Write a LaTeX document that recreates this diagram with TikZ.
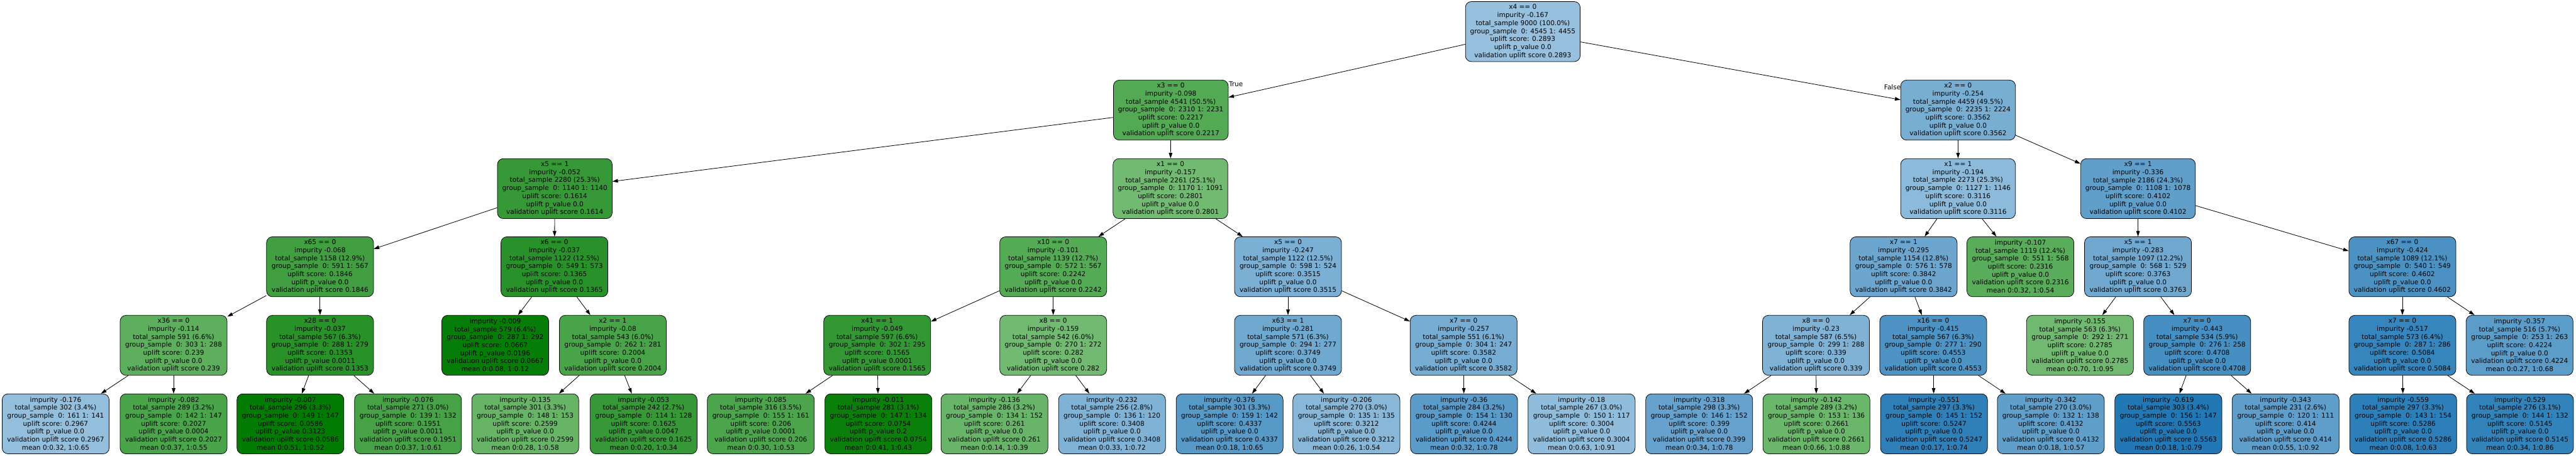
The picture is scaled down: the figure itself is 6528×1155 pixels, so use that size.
\documentclass[tikz,border=0pt]{standalone}
\usepackage{fontspec}
\setmainfont{DejaVu Sans}
\usepackage{xcolor}
\usetikzlibrary{arrows.meta}

\definecolor{gdark}{HTML}{007A00}
\definecolor{glight}{HTML}{74BB74}
\definecolor{blight}{HTML}{98C1DE}
\definecolor{bdark}{HTML}{1F77B4}

\newcommand{\splittxt}[7]{#1\\impurity #2\\total\_sample #3\\group\_sample\ \ 0: #4 1: #5\\uplift score: #6\\uplift p\_value #7\\validation uplift score #6}
\newcommand{\leaftxt}[7]{impurity #1\\total\_sample #2\\group\_sample\ \ 0: #3 1: #4\\uplift score: #5\\uplift p\_value #6\\validation uplift score #5\\mean #7}

\begin{document}
\begin{tikzpicture}[x=1pt, y=-1pt,
  box/.style={draw=black, line width=1.2pt, rounded corners=15pt, align=center,
    minimum width=271pt, minimum height=152pt, inner xsep=12pt, inner ysep=3pt,
    font=\fontsize{16.8}{20.2}\selectfont},
  ucol/.code={%
    \pgfmathtruncatemacro\isgreen{#1<0.285}%
    \ifnum\isgreen=1
      \pgfmathsetmacro\upct{min(100,max(0,(0.285-#1)/0.23*100))}%
      \xglobal\colorlet{nodefill}{gdark!\upct!glight}%
    \else
      \pgfmathsetmacro\upct{min(100,max(0,(#1-0.285)/0.275*100))}%
      \xglobal\colorlet{nodefill}{bdark!\upct!blight}%
    \fi
    \pgfkeysalso{fill=nodefill}},
  link/.style={-{Triangle[length=14pt,width=9pt]}, line width=1.3pt},
  lbl/.style={inner sep=0pt, font=\fontsize{16.8}{20.2}\selectfont}]

\fill[white] (0,0) rectangle (6528,1155);
\useasboundingbox (0,0) rectangle (6528,1155);

\node[box, ucol=0.2893] (root) at (3859,80) {\splittxt{x4 == 0}{-0.167}{9000 (100.0\%)}{4545}{4455}{0.2893}{0.0}};

\node[box, ucol=0.2217] (a) at (2967,279) {\splittxt{x3 == 0}{-0.098}{4541 (50.5\%)}{2310}{2231}{0.2217}{0.0}};
\node[box, ucol=0.3562] (b) at (4962,279) {\splittxt{x2 == 0}{-0.254}{4459 (49.5\%)}{2235}{2224}{0.3562}{0.0}};

\node[box, ucol=0.1614] (aa) at (1406,478) {\splittxt{x5 == 1}{-0.052}{2280 (25.3\%)}{1140}{1140}{0.1614}{0.0}};
\node[box, ucol=0.2801] (ab) at (2966,478) {\splittxt{x1 == 0}{-0.157}{2261 (25.1\%)}{1170}{1091}{0.2801}{0.0}};
\node[box, ucol=0.3116] (ba) at (4962,478) {\splittxt{x1 == 1}{-0.194}{2273 (25.3\%)}{1127}{1146}{0.3116}{0.0}};
\node[box, ucol=0.4102] (bb) at (5418,478) {\splittxt{x9 == 1}{-0.336}{2186 (24.3\%)}{1108}{1078}{0.4102}{0.0}};

\node[box, ucol=0.1846] (aaa) at (811,676) {\splittxt{x65 == 0}{-0.068}{1158 (12.9\%)}{591}{567}{0.1846}{0.0}};
\node[box, ucol=0.1365] (aab) at (1405,676) {\splittxt{x6 == 0}{-0.037}{1122 (12.5\%)}{549}{573}{0.1365}{0.0}};
\node[box, ucol=0.2242] (aba) at (2669,676) {\splittxt{x10 == 0}{-0.101}{1139 (12.7\%)}{572}{567}{0.2242}{0.0}};
\node[box, ucol=0.3515] (abb) at (3264,676) {\splittxt{x5 == 0}{-0.247}{1122 (12.5\%)}{598}{524}{0.3515}{0.0}};
\node[box, ucol=0.3842] (baa) at (4824,676) {\splittxt{x7 == 1}{-0.295}{1154 (12.8\%)}{576}{578}{0.3842}{0.0}};
\node[box, ucol=0.2316] (bab) at (5120,676) {\leaftxt{-0.107}{1119 (12.4\%)}{551}{568}{0.2316}{0.0}{0:0.32, 1:0.54}};
\node[box, ucol=0.3763] (bba) at (5418,676) {\splittxt{x5 == 1}{-0.283}{1097 (12.2\%)}{568}{529}{0.3763}{0.0}};
\node[box, ucol=0.4602] (bbb) at (6088,676) {\splittxt{x67 == 0}{-0.424}{1089 (12.1\%)}{540}{549}{0.4602}{0.0}};

\node[box, ucol=0.239] (aaaa) at (440,875) {\splittxt{x36 == 0}{-0.114}{591 (6.6\%)}{303}{288}{0.239}{0.0}};
\node[box, ucol=0.1353] (aaab) at (811,875) {\splittxt{x28 == 0}{-0.037}{567 (6.3\%)}{288}{279}{0.1353}{0.0011}};
\node[box, ucol=0.0667] (aaba) at (1255,875) {\leaftxt{-0.009}{579 (6.4\%)}{287}{292}{0.0667}{0.0196}{0:0.08, 1:0.12}};
\node[box, ucol=0.2004] (aabb) at (1553,875) {\splittxt{x2 == 1}{-0.08}{543 (6.0\%)}{262}{281}{0.2004}{0.0}};
\node[box, ucol=0.1565] (abaa) at (2223,875) {\splittxt{x41 == 1}{-0.049}{597 (6.6\%)}{302}{295}{0.1565}{0.0001}};
\node[box, ucol=0.282] (abab) at (2669,875) {\splittxt{x8 == 0}{-0.159}{542 (6.0\%)}{270}{272}{0.282}{0.0}};
\node[box, ucol=0.3749] (abba) at (3264,875) {\splittxt{x63 == 1}{-0.281}{571 (6.3\%)}{294}{277}{0.3749}{0.0}};
\node[box, ucol=0.3582] (abbb) at (3709,875) {\splittxt{x7 == 0}{-0.257}{551 (6.1\%)}{304}{247}{0.3582}{0.0}};
\node[box, ucol=0.339] (baaa) at (4602,875) {\splittxt{x8 == 0}{-0.23}{587 (6.5\%)}{299}{288}{0.339}{0.0}};
\node[box, ucol=0.4553] (baab) at (4899,875) {\splittxt{x16 == 0}{-0.415}{567 (6.3\%)}{277}{290}{0.4553}{0.0}};
\node[box, ucol=0.2785] (bbaa) at (5271,875) {\leaftxt{-0.155}{563 (6.3\%)}{292}{271}{0.2785}{0.0}{0:0.70, 1:0.95}};
\node[box, ucol=0.4708] (bbab) at (5568,875) {\splittxt{x7 == 0}{-0.443}{534 (5.9\%)}{276}{258}{0.4708}{0.0}};
\node[box, ucol=0.5084] (bbba) at (6088,875) {\splittxt{x7 == 0}{-0.517}{573 (6.4\%)}{287}{286}{0.5084}{0.0}};
\node[box, ucol=0.4224] (bbbb) at (6385,875) {\leaftxt{-0.357}{516 (5.7\%)}{253}{263}{0.4224}{0.0}{0:0.27, 1:0.68}};

\node[box, ucol=0.2967] (aaaaa) at (141,1074) {\leaftxt{-0.176}{302 (3.4\%)}{161}{141}{0.2967}{0.0}{0:0.32, 1:0.65}};
\node[box, ucol=0.2027] (aaaab) at (440,1074) {\leaftxt{-0.082}{289 (3.2\%)}{142}{147}{0.2027}{0.0004}{0:0.37, 1:0.55}};
\node[box, ucol=0.0586] (aaaba) at (736,1074) {\leaftxt{-0.007}{296 (3.3\%)}{149}{147}{0.0586}{0.3123}{0:0.51, 1:0.52}};
\node[box, ucol=0.1951] (aaabb) at (1034,1074) {\leaftxt{-0.076}{271 (3.0\%)}{139}{132}{0.1951}{0.0011}{0:0.37, 1:0.61}};
\node[box, ucol=0.2599] (aabba) at (1331,1074) {\leaftxt{-0.135}{301 (3.3\%)}{148}{153}{0.2599}{0.0}{0:0.28, 1:0.58}};
\node[box, ucol=0.1625] (aabbb) at (1631,1074) {\leaftxt{-0.053}{242 (2.7\%)}{114}{128}{0.1625}{0.0047}{0:0.20, 1:0.34}};
\node[box, ucol=0.206] (abaaa) at (1928,1074) {\leaftxt{-0.085}{316 (3.5\%)}{155}{161}{0.206}{0.0001}{0:0.30, 1:0.53}};
\node[box, ucol=0.0754] (abaab) at (2226,1074) {\leaftxt{-0.011}{281 (3.1\%)}{147}{134}{0.0754}{0.2}{0:0.41, 1:0.43}};
\node[box, ucol=0.261] (ababa) at (2520,1074) {\leaftxt{-0.136}{286 (3.2\%)}{134}{152}{0.261}{0.0}{0:0.14, 1:0.39}};
\node[box, ucol=0.3408] (ababb) at (2818,1074) {\leaftxt{-0.232}{256 (2.8\%)}{136}{120}{0.3408}{0.0}{0:0.33, 1:0.72}};
\node[box, ucol=0.4337] (abbaa) at (3116,1074) {\leaftxt{-0.376}{301 (3.3\%)}{159}{142}{0.4337}{0.0}{0:0.18, 1:0.65}};
\node[box, ucol=0.3212] (abbab) at (3412,1074) {\leaftxt{-0.206}{270 (3.0\%)}{135}{135}{0.3212}{0.0}{0:0.26, 1:0.54}};
\node[box, ucol=0.4244] (abbba) at (3710,1074) {\leaftxt{-0.36}{284 (3.2\%)}{154}{130}{0.4244}{0.0}{0:0.32, 1:0.78}};
\node[box, ucol=0.3004] (abbbb) at (4008,1074) {\leaftxt{-0.18}{267 (3.0\%)}{150}{117}{0.3004}{0.0}{0:0.63, 1:0.91}};
\node[box, ucol=0.399] (baaaa) at (4306,1074) {\leaftxt{-0.318}{298 (3.3\%)}{146}{152}{0.399}{0.0}{0:0.34, 1:0.78}};
\node[box, ucol=0.2661] (baaab) at (4603,1074) {\leaftxt{-0.142}{289 (3.2\%)}{153}{136}{0.2661}{0.0}{0:0.66, 1:0.88}};
\node[box, ucol=0.5247] (baaba) at (4901,1074) {\leaftxt{-0.551}{297 (3.3\%)}{145}{152}{0.5247}{0.0}{0:0.17, 1:0.74}};
\node[box, ucol=0.4132] (baabb) at (5197,1074) {\leaftxt{-0.342}{270 (3.0\%)}{132}{138}{0.4132}{0.0}{0:0.18, 1:0.57}};
\node[box, ucol=0.5563] (bbaba) at (5495,1074) {\leaftxt{-0.619}{303 (3.4\%)}{156}{147}{0.5563}{0.0}{0:0.18, 1:0.79}};
\node[box, ucol=0.414] (bbabb) at (5792,1074) {\leaftxt{-0.343}{231 (2.6\%)}{120}{111}{0.414}{0.0}{0:0.55, 1:0.92}};
\node[box, ucol=0.5286] (bbbaa) at (6090,1074) {\leaftxt{-0.559}{297 (3.3\%)}{143}{154}{0.5286}{0.0}{0:0.08, 1:0.63}};
\node[box, ucol=0.5145] (bbbab) at (6386,1074) {\leaftxt{-0.529}{276 (3.1\%)}{144}{132}{0.5145}{0.0}{0:0.34, 1:0.86}};

\draw[link] (root) -- (a);
\draw[link] (root) -- (b);
\draw[link] (a) -- (aa);
\draw[link] (a) -- (ab);
\draw[link] (b) -- (ba);
\draw[link] (b) -- (bb);
\draw[link] (aa) -- (aaa);
\draw[link] (aa) -- (aab);
\draw[link] (ab) -- (aba);
\draw[link] (ab) -- (abb);
\draw[link] (ba) -- (baa);
\draw[link] (ba) -- (bab);
\draw[link] (bb) -- (bba);
\draw[link] (bb) -- (bbb);
\draw[link] (aaa) -- (aaaa);
\draw[link] (aaa) -- (aaab);
\draw[link] (aab) -- (aaba);
\draw[link] (aab) -- (aabb);
\draw[link] (aba) -- (abaa);
\draw[link] (aba) -- (abab);
\draw[link] (abb) -- (abba);
\draw[link] (abb) -- (abbb);
\draw[link] (baa) -- (baaa);
\draw[link] (baa) -- (baab);
\draw[link] (bba) -- (bbaa);
\draw[link] (bba) -- (bbab);
\draw[link] (bbb) -- (bbba);
\draw[link] (bbb) -- (bbbb);
\draw[link] (aaaa) -- (aaaaa);
\draw[link] (aaaa) -- (aaaab);
\draw[link] (aaab) -- (aaaba);
\draw[link] (aaab) -- (aaabb);
\draw[link] (aabb) -- (aabba);
\draw[link] (aabb) -- (aabbb);
\draw[link] (abaa) -- (abaaa);
\draw[link] (abaa) -- (abaab);
\draw[link] (abab) -- (ababa);
\draw[link] (abab) -- (ababb);
\draw[link] (abba) -- (abbaa);
\draw[link] (abba) -- (abbab);
\draw[link] (abbb) -- (abbba);
\draw[link] (abbb) -- (abbbb);
\draw[link] (baaa) -- (baaaa);
\draw[link] (baaa) -- (baaab);
\draw[link] (baab) -- (baaba);
\draw[link] (baab) -- (baabb);
\draw[link] (bbab) -- (bbaba);
\draw[link] (bbab) -- (bbabb);
\draw[link] (bbba) -- (bbbaa);
\draw[link] (bbba) -- (bbbab);

\node[lbl, anchor=north west] (truelbl) at ([xshift=1pt, yshift=-5pt]a.north east) {True};
\node[lbl, anchor=north east] (falselbl) at ([xshift=1pt, yshift=-12pt]b.north west) {False};
\end{tikzpicture}
\end{document}
